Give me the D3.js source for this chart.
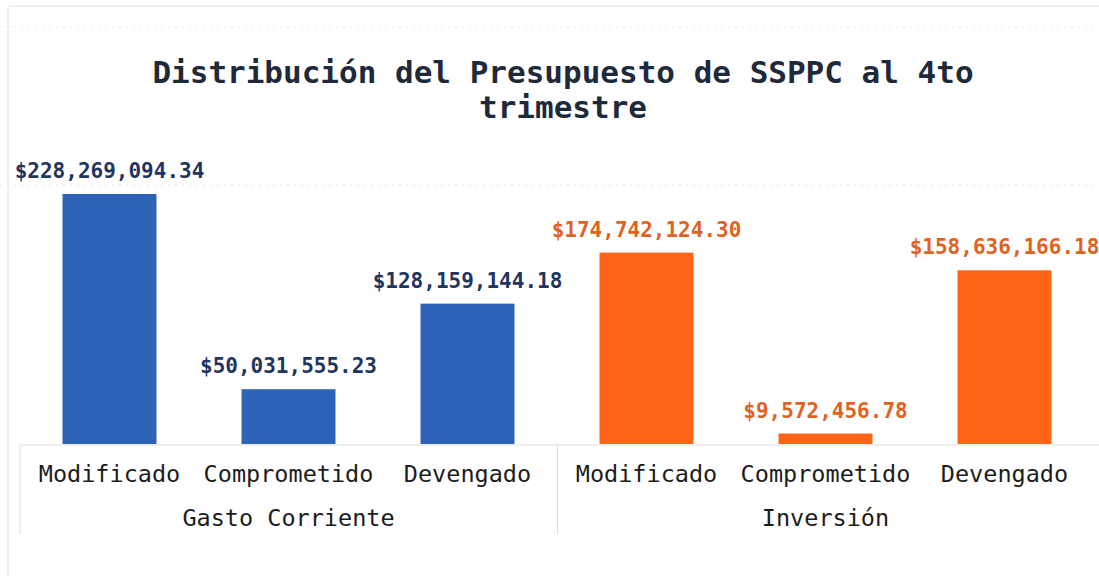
<!DOCTYPE html>
<html>
<head>
<meta charset="utf-8">
<script src="https://cdn.jsdelivr.net/npm/d3@7"></script>
<style>
  html, body { margin: 0; padding: 0; background: #fff; }
  svg { display: block; font-family: "DejaVu Sans Mono", "Liberation Mono", monospace; }
</style>
</head>
<body>
<div id="chart"></div>
<script>
const titleLines = ["Distribución del Presupuesto de SSPPC al 4to", "trimestre"];
const groups = ["Gasto Corriente", "Inversión"];
const categories = ["Modificado", "Comprometido", "Devengado"];
const gastoCorriente = [228269094.34, 50031555.23, 128159144.18];
const inversion = [174742124.30, 9572456.78, 158636166.18];
const barColors = ["#2c63b6", "#ff6416"];
const labelColors = ["#1f3560", "#e0621f"];

const width = 1099, height = 576;
const baseY = 444;

const rows = [];
[gastoCorriente, inversion].forEach((vals, gi) => {
  vals.forEach((v, ci) => rows.push({ group: groups[gi], cat: categories[ci], value: v, gi }));
});

const svg = d3.select("#chart").append("svg")
  .attr("width", width)
  .attr("height", height);

// frame
svg.append("line").attr("x1", 8).attr("x2", 8).attr("y1", 6).attr("y2", height)
  .attr("stroke", "#e2e2e2");
svg.append("line").attr("x1", 8).attr("x2", width).attr("y1", 6).attr("y2", 6)
  .attr("stroke", "#e2e2e2");
[27, 185].forEach(yy => {
  svg.append("line").attr("x1", 0).attr("x2", width).attr("y1", yy).attr("y2", yy)
    .attr("stroke", "#e6e6e6").attr("stroke-dasharray", "2,5");
});

// title
svg.append("text")
  .attr("x", 563).attr("y", 83)
  .attr("text-anchor", "middle")
  .attr("font-size", 31).attr("font-weight", "bold").attr("fill", "#1e2a3a")
  .selectAll("tspan").data(titleLines).join("tspan")
  .attr("x", 563).attr("dy", (d, i) => i ? 35 : 0)
  .text(d => d);

const x0 = d3.scaleBand().domain(groups).range([20, 1094]);
const x1 = d3.scaleBand().domain(categories).range([0, x0.bandwidth()])
  .paddingInner(0.475).paddingOuter(0.2375);
const y = d3.scaleLinear().domain([0, d3.max(gastoCorriente)]).range([baseY, 194]);

const fmt = d3.format("$,.2f");

svg.append("g").selectAll("rect").data(rows).join("rect")
  .attr("x", d => x0(d.group) + x1(d.cat))
  .attr("y", d => y(d.value))
  .attr("width", x1.bandwidth())
  .attr("height", d => baseY - y(d.value))
  .attr("fill", d => barColors[d.gi]);

svg.append("g").selectAll("text").data(rows).join("text")
  .attr("x", d => x0(d.group) + x1(d.cat) + x1.bandwidth() / 2)
  .attr("y", d => y(d.value) - 16)
  .attr("text-anchor", "middle")
  .attr("font-size", 21).attr("font-weight", "bold")
  .attr("fill", d => labelColors[d.gi])
  .text(d => fmt(d.value));

// header table under the bars
const hdr = svg.append("g").attr("stroke", "#dcdcdc").attr("fill", "none");
hdr.append("line").attr("x1", 20).attr("x2", width).attr("y1", baseY + 1).attr("y2", baseY + 1);
hdr.append("line").attr("x1", 20).attr("x2", 20).attr("y1", baseY + 1).attr("y2", 534);
groups.slice(1).forEach(g => {
  hdr.append("line").attr("x1", x0(g) + 0.5).attr("x2", x0(g) + 0.5).attr("y1", baseY + 1).attr("y2", 534);
});

groups.forEach(g => {
  const axis = d3.axisBottom(x1).tickSize(0).tickPadding(0);
  const ax = svg.append("g")
    .attr("transform", `translate(${x0(g)},${baseY + 38})`)
    .call(axis);
  ax.select(".domain").remove();
  ax.selectAll("text")
    .attr("font-family", "DejaVu Sans Mono, monospace")
    .attr("font-size", 23.5).attr("fill", "#1c1c1c")
    .attr("dy", 0);
});

svg.append("g").selectAll("text").data(groups).join("text")
  .attr("x", d => x0(d) + x0.bandwidth() / 2)
  .attr("y", 526)
  .attr("text-anchor", "middle")
  .attr("font-size", 23.5).attr("fill", "#1c1c1c")
  .text(d => d);
</script>
</body>
</html>
